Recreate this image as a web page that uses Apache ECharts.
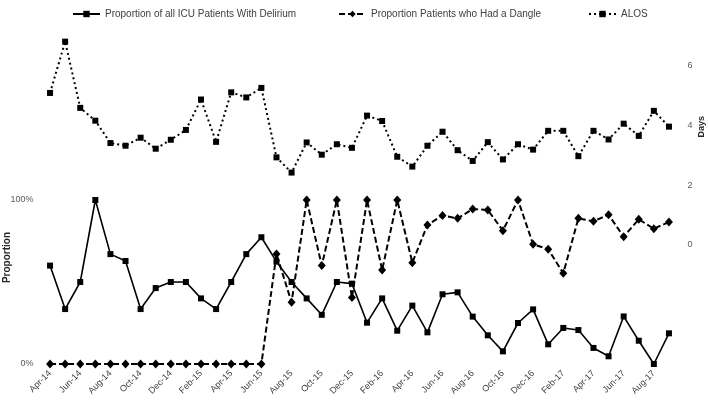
<!DOCTYPE html>
<html>
<head>
<meta charset="utf-8">
<script src="https://cdn.jsdelivr.net/npm/echarts@6/dist/echarts.min.js"></script>
<style>html,body{margin:0;padding:0;background:#fff}#c{width:708px;height:401px}</style>
</head>
<body>
<div id="c"></div>
<script>
var categories = ['Apr-14','May-14','Jun-14','Jul-14','Aug-14','Sep-14','Oct-14','Nov-14','Dec-14','Jan-15','Feb-15','Mar-15','Apr-15','May-15','Jun-15','Jul-15','Aug-15','Sep-15','Oct-15','Nov-15','Dec-15','Jan-16','Feb-16','Mar-16','Apr-16','May-16','Jun-16','Jul-16','Aug-16','Sep-16','Oct-16','Nov-16','Dec-16','Jan-17','Feb-17','Mar-17','Apr-17','May-17','Jun-17','Jul-17','Aug-17','Sep-17'];

var delirium = [0.60,0.335,0.50,1.00,0.67,0.628,0.335,0.463,0.50,0.50,0.40,0.335,0.50,0.67,0.773,0.624,0.50,0.40,0.30,0.50,0.49,0.252,0.40,0.203,0.356,0.193,0.425,0.437,0.289,0.175,0.077,0.25,0.333,0.12,0.22,0.207,0.098,0.047,0.29,0.142,0.0,0.187];

var dangle = [0,0,0,0,0,0,0,0,0,0,0,0,0,0,0,0.67,0.376,1.0,0.60,1.0,0.405,1.0,0.573,1.0,0.618,0.848,0.905,0.888,0.945,0.939,0.813,1.0,0.73,0.70,0.553,0.888,0.87,0.91,0.776,0.882,0.825,0.866];

var alos = [5.09,6.81,4.59,4.16,3.41,3.32,3.59,3.22,3.52,3.85,4.87,3.45,5.11,4.94,5.26,2.93,2.42,3.43,3.02,3.37,3.25,4.33,4.15,2.95,2.62,3.32,3.79,3.17,2.81,3.44,2.86,3.37,3.19,3.82,3.82,2.97,3.82,3.53,4.06,3.65,4.49,3.96];

var seriesNames = ['Proportion of all ICU Patients With Delirium','Proportion Patients who Had a Dangle','ALOS'];

var FONT = 'Liberation Sans, Arial, sans-serif';
var chart = echarts.init(document.getElementById('c'));
var legendBase = {top: 9, padding: 0, itemWidth: 27, itemHeight: 8, itemGap: 4, textStyle: {fontFamily: FONT, fontSize: 10, color: '#404040'}};
chart.setOption({
  animation: false,
  backgroundColor: '#fff',
  grid: {left: 42.5, right: 31.5, top: 36, bottom: 37},
  legend: [
    Object.assign({}, legendBase, {left: 72, data: [seriesNames[0]]}),
    Object.assign({}, legendBase, {left: 338, data: [seriesNames[1]]}),
    Object.assign({}, legendBase, {left: 588, data: [seriesNames[2]]})
  ],
  xAxis: {
    type: 'category',
    data: categories,
    boundaryGap: true,
    axisLine: {show: false},
    axisTick: {show: false},
    splitLine: {show: false},
    axisLabel: {interval: 1, rotate: 45, margin: 8, fontFamily: FONT, fontSize: 9, color: '#404040'}
  },
  yAxis: [
    {
      type: 'value', min: 0, max: 2, interval: 1, position: 'left',
      axisLine: {show: false}, axisTick: {show: false}, splitLine: {show: false},
      axisLabel: {margin: 9, fontFamily: FONT, fontSize: 9, color: '#595959',
        formatter: function (v) { return v <= 1 ? Math.round(v * 100) + '%' : ''; }}
    },
    {
      type: 'value', min: -4, max: 7, interval: 2, position: 'right',
      axisLine: {show: false}, axisTick: {show: false}, splitLine: {show: false},
      axisLabel: {margin: 11, fontFamily: FONT, fontSize: 9, color: '#595959',
        formatter: function (v) { return (v >= 0 && v % 2 === 0) ? String(v) : ''; }}
    }
  ],
  graphic: [
    {type: 'text', left: 2, top: 232, rotation: Math.PI / 2,
      style: {text: 'Proportion', fontFamily: FONT, fontSize: 10, fontWeight: 'bold', fill: '#262626'}},
    {type: 'text', left: 697, top: 116, rotation: Math.PI / 2,
      style: {text: 'Days', fontFamily: FONT, fontSize: 9, fontWeight: 'bold', fill: '#262626'}}
  ],
  series: [
    {
      name: seriesNames[0], type: 'line', yAxisIndex: 0, data: delirium,
      symbol: 'rect', symbolSize: 6, z: 3,
      lineStyle: {color: '#000', width: 1.6, type: 'solid'},
      itemStyle: {color: '#000'}
    },
    {
      name: seriesNames[1], type: 'line', yAxisIndex: 0, data: dangle,
      symbol: 'diamond', symbolSize: [8, 9], z: 4,
      lineStyle: {color: '#000', width: 2, type: [6, 3]},
      itemStyle: {color: '#000'}
    },
    {
      name: seriesNames[2], type: 'line', yAxisIndex: 1, data: alos,
      symbol: 'rect', symbolSize: 6, z: 2,
      lineStyle: {color: '#000', width: 2, type: [2, 3]},
      itemStyle: {color: '#000'}
    }
  ]
});
</script>
</body>
</html>
